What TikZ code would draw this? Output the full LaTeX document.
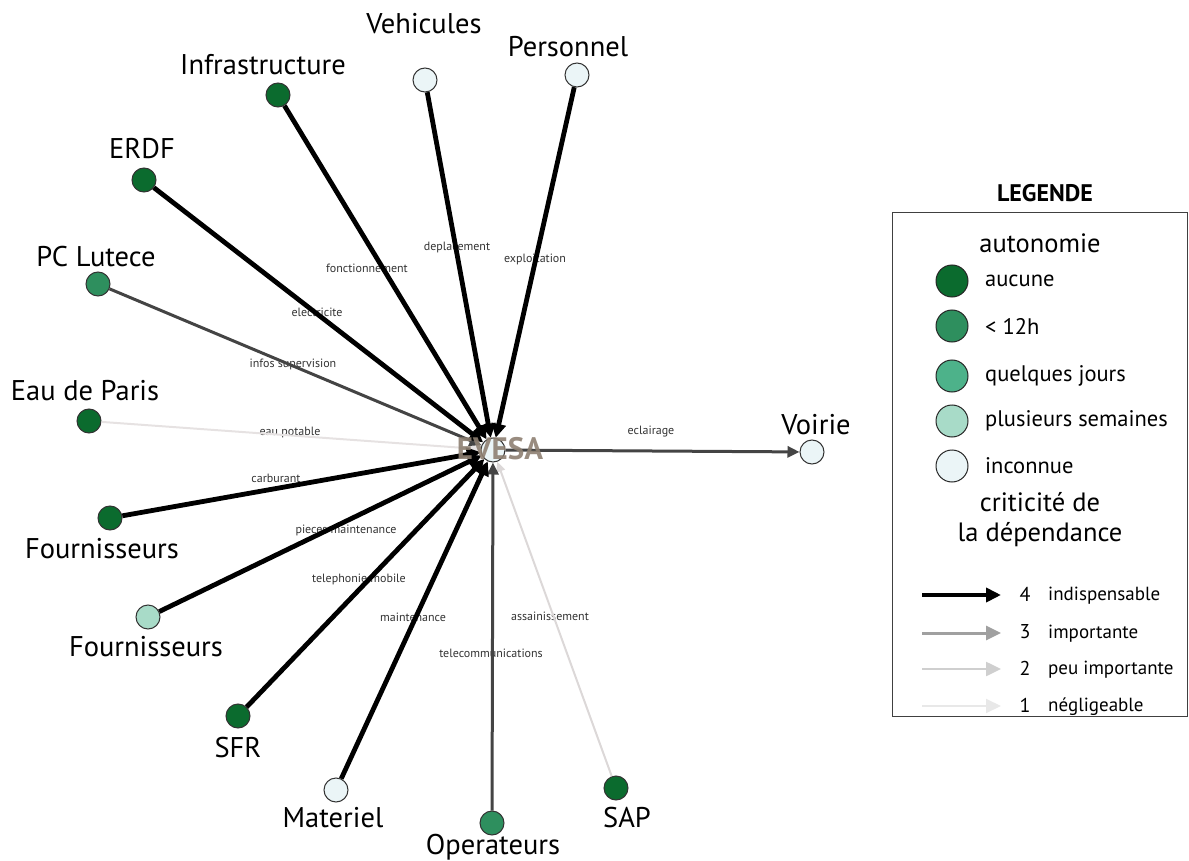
\documentclass[tikz,border=0pt]{standalone}
\usepackage{fontspec}
\setmainfont{PT Sans}
\usetikzlibrary{arrows.meta}
\definecolor{caucune}{HTML}{0B6B2E}
\definecolor{cdouze}{HTML}{2E8F5E}
\definecolor{cjours}{HTML}{4DB28A}
\definecolor{csem}{HTML}{A8DBC8}
\definecolor{cinc}{HTML}{EBF5F7}
\definecolor{lvlthree}{HTML}{444444}
\definecolor{lvlone}{HTML}{E6E2E2}
\definecolor{legthree}{HTML}{A0A0A0}
\definecolor{legtwo}{HTML}{CFCFCF}
\definecolor{legone}{HTML}{E8E8E8}
\definecolor{evesacol}{HTML}{8E8072}
\tikzset{
  ent/.style={circle,draw=black!80,line width=1pt,minimum size=24pt,inner sep=0pt},
  lab/.style={font=\fontsize{28.5}{32}\selectfont,inner sep=0pt},
  elab/.style={font=\fontsize{12}{14}\selectfont,text=black!80,inner sep=0pt},
  lfour/.style={line width=4.8pt,black,-{Triangle[length=14pt,width=14pt]}},
  lthree/.style={line width=3pt,lvlthree,-{Triangle[length=12pt,width=11pt]}},
  lone/.style={line width=2pt,lvlone,-{Triangle[length=10pt,width=9pt]}},
  legc/.style={circle,draw=black!85,line width=1pt,minimum size=32pt,inner sep=0pt},
  legt/.style={font=\fontsize{22.5}{26}\selectfont,anchor=west,inner sep=0pt},
  legh/.style={font=\fontsize{26.5}{30}\selectfont,inner sep=0pt},
  legn/.style={font=\fontsize{20}{22}\selectfont,inner sep=0pt},
  legw/.style={font=\fontsize{19}{22}\selectfont,anchor=west,inner sep=0pt},
}
\begin{document}
\begin{tikzpicture}[x=1pt,y=-1pt]
\useasboundingbox (0,0) rectangle (1189,861);
% edge labels (under the edges)
\node[elab] (ldep) at (457,248) {deplacement};
\node[elab] (lexp) at (535,259) {exploitation};
\node[elab] (lfon) at (367,268) {fonctionnement};
\node[elab] (lele) at (317,312) {electricite};
\node[elab] (linf) at (293,364) {infos supervision};
\node[elab] (leau) at (290,432) {eau potable};
\node[elab] (lcar) at (276,478) {carburant};
\node[elab] (lpie) at (346,530) {pieces maintenance};
\node[elab] (ltel) at (359,579) {telephonie mobile};
\node[elab] (lmai) at (413,617) {maintenance};
\node[elab] (ltc) at (491,653) {telecommunications};
\node[elab] (lass) at (550,616) {assainissement};
\node[elab] (lecl) at (651,432) {eclairage};
% nodes
\node[ent,fill=cinc] (ev) at (493,450) {};
\node[ent,fill=cinc] (veh) at (425,80) {};
\node[ent,fill=cinc] (per) at (577,75) {};
\node[ent,fill=caucune] (inf) at (278,95) {};
\node[ent,fill=caucune] (erdf) at (144,180) {};
\node[ent,fill=cdouze] (pcl) at (98,284) {};
\node[ent,fill=caucune] (eau) at (89,421) {};
\node[ent,fill=caucune] (fo1) at (110,518) {};
\node[ent,fill=csem] (fo2) at (148,617) {};
\node[ent,fill=caucune] (sfr) at (238,716) {};
\node[ent,fill=cinc] (mat) at (336,790) {};
\node[ent,fill=cdouze] (ope) at (492,823) {};
\node[ent,fill=caucune] (sap) at (616,788) {};
\node[ent,fill=cinc] (voi) at (812,452) {};
% edges
\draw[lone] (eau) -- (ev);
\draw[lone,lvlone!90!gray] (sap) -- (ev);
\draw[lthree] (pcl) -- (ev);
\draw[lthree] (ope) -- (ev);
\draw[lthree] (ev) -- (voi);
\draw[lfour] (veh) -- (ev);
\draw[lfour] (per) -- (ev);
\draw[lfour] (inf) -- (ev);
\draw[lfour] (erdf) -- (ev);
\draw[lfour] (fo1) -- (ev);
\draw[lfour] (fo2) -- (ev);
\draw[lfour] (sfr) -- (ev);
\draw[lfour] (mat) -- (ev);
% node labels
\node[lab] (tveh) at (424,24) {Vehicules};
\node[lab] (tper) at (568,47) {Personnel};
\node[lab] (tinf) at (263,65) {Infrastructure};
\node[lab] (terdf) at (142,149) {ERDF};
\node[lab] (tpcl) at (96,257) {PC Lutece};
\node[lab] (teau) at (85,391) {Eau de Paris};
\node[lab] (tfo1) at (102,549) {Fournisseurs};
\node[lab] (tfo2) at (146,647) {Fournisseurs};
\node[lab] (tsfr) at (238,748) {SFR};
\node[lab] (tmat) at (333,818) {Materiel};
\node[lab] (tope) at (493,847) {Operateurs};
\node[lab] (tsap) at (627,818) {SAP};
\node[lab] (tvoi) at (816,425) {Voirie};
\node[font=\fontsize{31}{34}\selectfont\bfseries,text=evesacol,opacity=0.9,inner sep=0pt] (tev) at (500,449) {EVESA};
% legend
\node[font=\fontsize{24}{28}\selectfont\bfseries,inner sep=0pt] (lgt) at (1045,193) {LEGENDE};
\draw[line width=1pt,black!75] (892,213) rectangle (1187,716);
\node[legh] (lga) at (1040,243) {autonomie};
\node[legc,fill=caucune] (c1) at (952,281) {};
\node[legc,fill=cdouze] (c2) at (952,326) {};
\node[legc,fill=cjours] (c3) at (952,376) {};
\node[legc,fill=csem] (c4) at (952,421) {};
\node[legc,fill=cinc] (c5) at (952,466) {};
\node[legt] at (985,281) {aucune};
\node[legt] at (985,326) {< 12h};
\node[legt] at (985,376) {quelques jours};
\node[legt] at (985,421) {plusieurs semaines};
\node[legt] at (985,466) {inconnue};
\node[legh,align=center] (lgc) at (1040,520) {criticité de\\la dépendance};
\coordinate (a1) at (922,595); \coordinate (b1) at (1001,595);
\coordinate (a2) at (922,633); \coordinate (b2) at (1001,633);
\coordinate (a3) at (922,669); \coordinate (b3) at (1001,669);
\coordinate (a4) at (922,706); \coordinate (b4) at (1001,706);
\draw[line width=4.5pt,black,-{Triangle[length=15pt,width=14pt]}] (a1) -- (b1);
\draw[line width=3pt,legthree,-{Triangle[length=15pt,width=14pt]}] (a2) -- (b2);
\draw[line width=2.5pt,legtwo,-{Triangle[length=15pt,width=14pt]}] (a3) -- (b3);
\draw[line width=2pt,legone,-{Triangle[length=15pt,width=14pt]}] (a4) -- (b4);
\node[legn] at (1025,594) {4};
\node[legn] at (1025,632) {3};
\node[legn] at (1025,668) {2};
\node[legn] at (1025,705) {1};
\node[legw] at (1048,596) {indispensable};
\node[legw] at (1048,634) {importante};
\node[legw] at (1048,670) {peu importante};
\node[legw] at (1048,707) {négligeable};
\end{tikzpicture}
\end{document}
